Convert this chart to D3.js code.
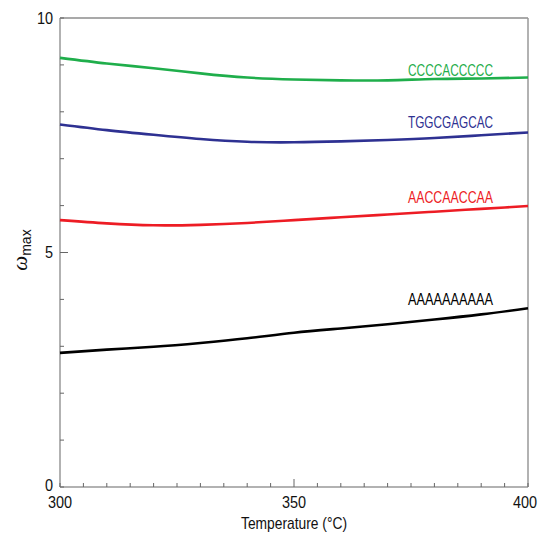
<!DOCTYPE html>
<html><head><meta charset="utf-8">
<script src="https://cdn.jsdelivr.net/npm/d3@7"></script>
<style>
html,body{margin:0;padding:0;background:#fff;}
text{font-family:"Liberation Sans",Arial,sans-serif;}
</style></head>
<body><svg id="c" width="540" height="534"></svg>
<script>
const temps = [300,310,320,330,340,350,360,370,380,390,400];
const seqNames = ["CCCCACCCCC","TGGCGAGCAC","AACCAACCAA","AAAAAAAAAA"];
const seqColors = ["#1fae4b","#2e3192","#ed1c24","#000000"];
const omegaCCCC = [9.15,9.03,8.93,8.82,8.73,8.69,8.67,8.67,8.70,8.71,8.73];
const omegaTGGC = [7.73,7.61,7.51,7.42,7.36,7.35,7.37,7.40,7.44,7.50,7.56];
const omegaAACC = [5.69,5.62,5.58,5.59,5.63,5.69,5.75,5.81,5.87,5.93,5.99];
const omegaAAAA = [2.86,2.93,2.99,3.07,3.17,3.29,3.38,3.47,3.57,3.68,3.81];
const labelAt = [8.9, 7.78, 6.18, 4.0];
const xTickLabels = [300,350,400];
const yTickLabels = [0,5,10];

const series = [omegaCCCC, omegaTGGC, omegaAACC, omegaAAAA];
const svg = d3.select("#c");
const L=60, R=528, T=18, B=487;
const x = d3.scaleLinear().domain([300,400]).range([L,R]);
const y = d3.scaleLinear().domain([0,10]).range([B,T]);

function narrow(sel, f){
  sel.each(function(){
    const w = this.getComputedTextLength();
    d3.select(this).attr("textLength", w*f).attr("lengthAdjust","spacingAndGlyphs");
  });
  return sel;
}

// frame
svg.append("line").attr("x1",L).attr("x2",R).attr("y1",T).attr("y2",T).attr("stroke","#555").attr("stroke-width",1.2);
svg.append("line").attr("x1",R).attr("x2",R).attr("y1",T).attr("y2",B).attr("stroke","#999").attr("stroke-width",1.5);
svg.append("line").attr("x1",L).attr("x2",L).attr("y1",T).attr("y2",B).attr("stroke","#999").attr("stroke-width",1.5);
svg.append("line").attr("x1",L).attr("x2",R).attr("y1",B).attr("y2",B).attr("stroke","#999").attr("stroke-width",1.5);

// ticks
const yt = d3.range(0,11,1);
svg.selectAll(".ytk").data(yt).enter().append("line")
  .attr("x1",L).attr("x2",d=>L+(d===5?8:4)).attr("y1",d=>y(d)).attr("y2",d=>y(d))
  .attr("stroke","#666").attr("stroke-width",1);
const xt = d3.range(300,401,5);
svg.selectAll(".xtk").data(xt).enter().append("line")
  .attr("x1",d=>x(d)).attr("x2",d=>x(d)).attr("y1",B).attr("y2",d=>B-(d===350?8:4))
  .attr("stroke","#666").attr("stroke-width",1);

// tick labels
narrow(svg.selectAll(".yl").data(yTickLabels).enter().append("text")
  .attr("x",L-7).attr("y",d=>y(d)-(d===0?2:0)).attr("dy","0.35em").attr("text-anchor","end")
  .attr("font-size",17).attr("fill","#111").text(d=>d), 0.85);
narrow(svg.selectAll(".xl").data(xTickLabels).enter().append("text")
  .attr("x",d=>d===400?537:x(d)).attr("y",508).attr("text-anchor",d=>d===400?"end":"middle")
  .attr("font-size",17).attr("fill","#111").text(d=>d), 0.85);

// axis titles
svg.append("text").attr("x",x(350)).attr("y",529).attr("text-anchor","middle")
  .attr("font-size",17).attr("fill","#111").attr("textLength",106).attr("lengthAdjust","spacingAndGlyphs")
  .text("Temperature (°C)");
const yl = svg.append("text").attr("transform","translate(27,250) rotate(-90)")
  .attr("text-anchor","middle").attr("fill","#111");
yl.append("tspan").attr("font-style","italic").attr("font-size",21)
  .style("font-family","'Liberation Serif','DejaVu Serif',serif").text("ω");
yl.append("tspan").attr("font-size",14).attr("dy",4).text("max");

// lines
const line = d3.line().x((d,i)=>x(temps[i])).y(d=>y(d)).curve(d3.curveNatural);
series.forEach((s,k)=>{
  svg.append("path").attr("d",line(s)).attr("fill","none")
    .attr("stroke",seqColors[k]).attr("stroke-width",2.6);
  svg.append("text").attr("x",493).attr("y",y(labelAt[k])).attr("dy","0.35em")
    .attr("text-anchor","end").attr("font-size",17).attr("fill",seqColors[k])
    .attr("textLength",85).attr("lengthAdjust","spacingAndGlyphs").text(seqNames[k]);
});
</script></body></html>
